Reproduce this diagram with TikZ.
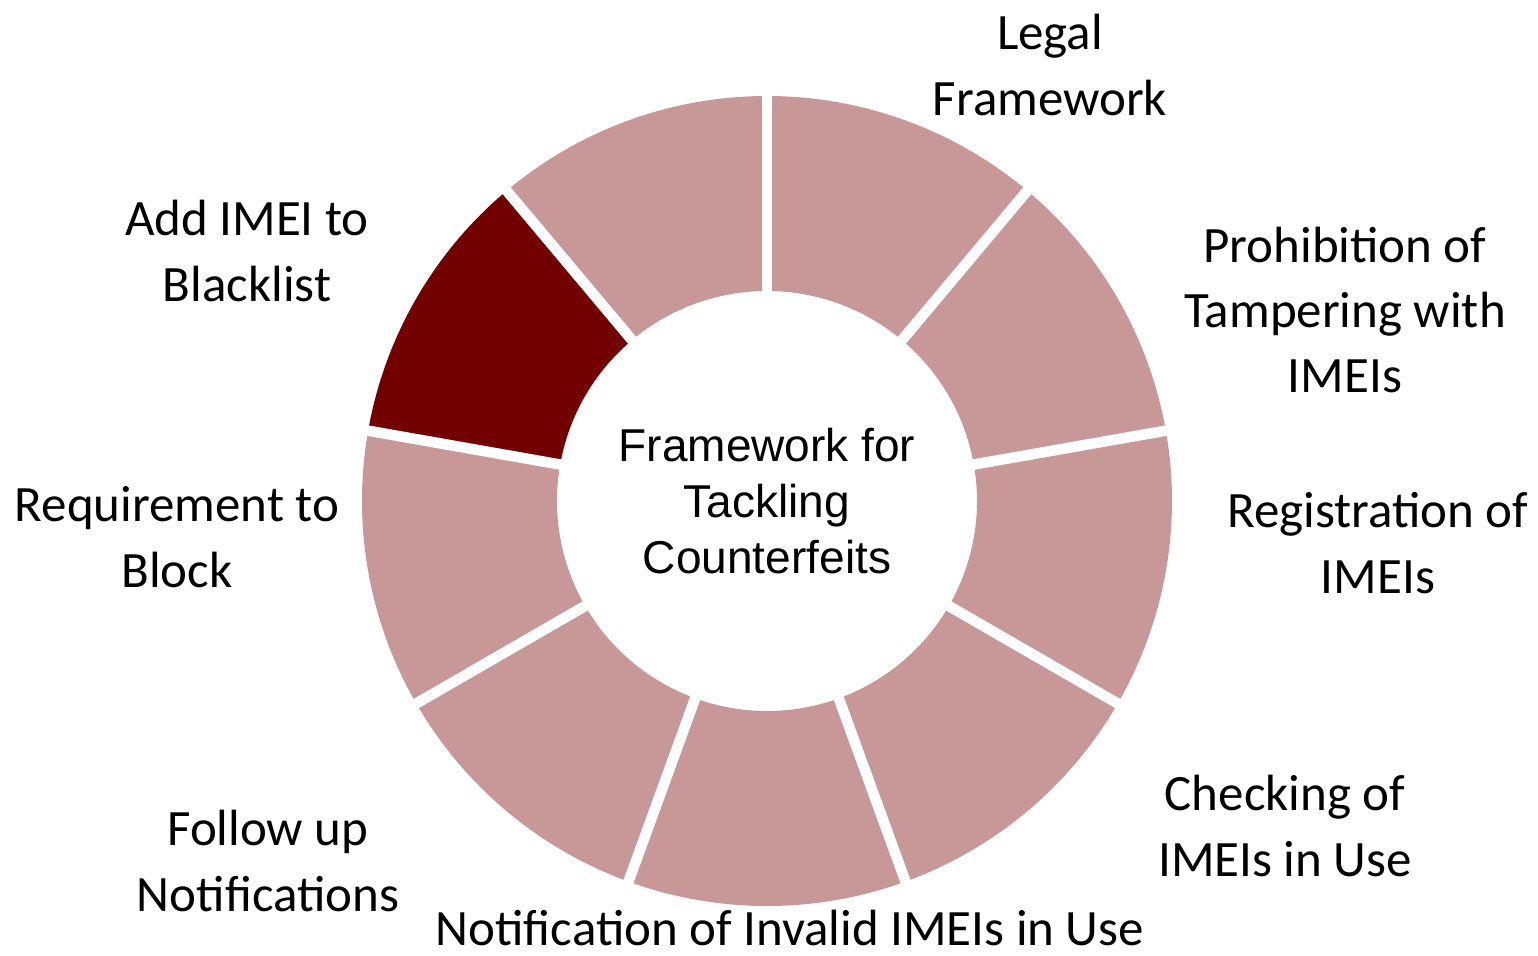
\documentclass[tikz,border=0pt]{standalone}
\usepackage{fontspec}
\setmainfont{Carlito}
\newfontfamily\hubfont{Liberation Sans}
\usepackage{tikz}
\definecolor{segpink}{HTML}{C89898}
\definecolor{segdark}{HTML}{720000}
\tikzset{
  lbl/.style={align=center,font=\fontsize{14.5}{18.6}\selectfont},
  hub/.style={align=center,font=\hubfont\fontsize{13.1}{16}\selectfont}
}

\begin{document}
\begin{tikzpicture}
      \useasboundingbox (-7.67,-4.54) rectangle (7.71,5.01);
      \coordinate (0) at (0,0);

      % ring of nine pieces, 40 degrees each
      \foreach \a/\c in {90/segpink,50/segpink,10/segpink,-30/segpink,-70/segpink,-110/segpink,-150/segpink,170/segdark,130/segpink}
        \fill[\c] (\a:2.1) -- (\a:4.05) arc[start angle=\a, end angle=\a-40, radius=4.05]
          -- (\a-40:2.1) arc[start angle=\a-40, end angle=\a, radius=2.1] -- cycle;
      \foreach \a in {90,50,...,-230}
        \draw[white,line width=3pt] (\a:2.0) -- (\a:4.15);

      \node[hub] (hub) at (0) {Framework for\\Tackling\\Counterfeits};

      \node[lbl] (1) at (2.83,4.36) {Legal\\Framework};
      \node[lbl] (2) at (5.78,1.91) {Prohibition of\\Tampering with\\IMEIs};
      \node[lbl] (3) at (6.11,-0.42) {Registration of\\IMEIs};
      \node[lbl] (4) at (5.18,-3.25) {Checking of\\IMEIs in Use};
      \node[lbl] (5) at (0.23,-4.27) {Notification of Invalid IMEIs in Use};
      \node[lbl] (6) at (-4.99,-3.60) {Follow up\\Notifications};
      \node[lbl] (7) at (-5.90,-0.36) {Requirement to\\Block};
      \node[lbl] (8) at (-5.20,2.50) {Add IMEI to\\Blacklist};
    \end{tikzpicture}
\end{document}
